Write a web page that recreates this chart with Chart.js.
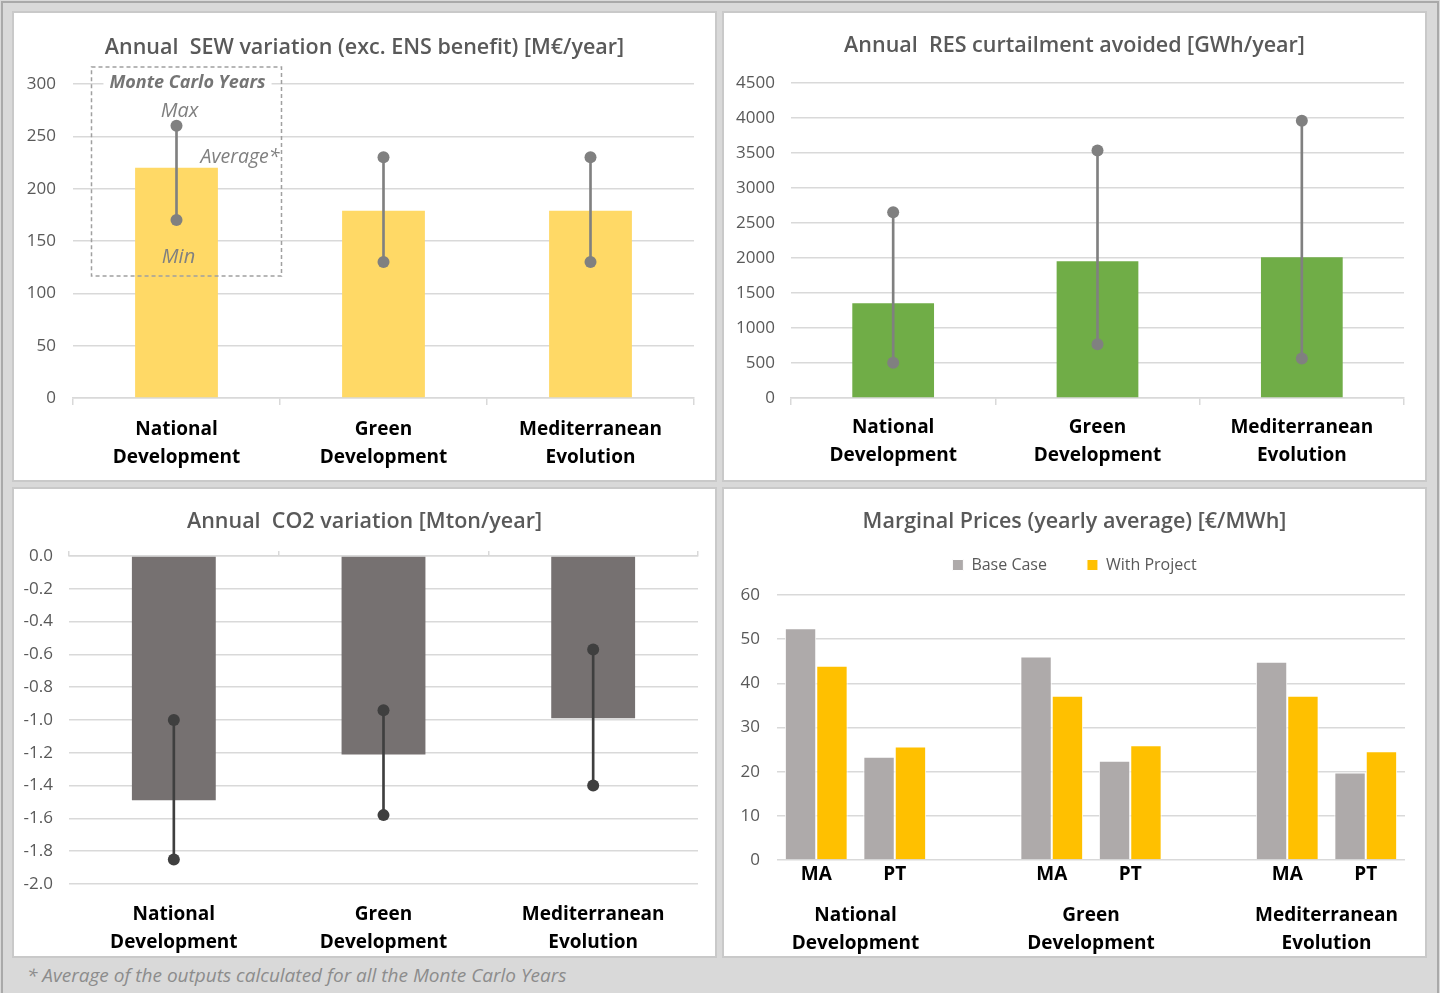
<!DOCTYPE html>
<html>
<head>
<meta charset="utf-8">
<title>Project indicators by scenario</title>
<script src="https://cdn.jsdelivr.net/npm/chart.js@4.4.1/dist/chart.umd.min.js"></script>
<style>
  html, body { margin: 0; padding: 0; }
  body {
    width: 1440px; height: 993px; position: relative; overflow: hidden;
    background: #d9d9d9; font-family: "Open Sans", "Noto Sans", sans-serif;
  }
  .frame { position: absolute; left: 1px; top: 1px; width: 1438px; height: 1010px;
           border: 2px solid #a9a9a9; box-sizing: border-box; }
  .panel { position: absolute; width: 705px; height: 471px; background: #fff;
           border: 2px solid #c9c9c9; box-sizing: border-box; }
  .panel canvas { position: absolute; left: 0; top: 0; }
  #p1 { left: 12px;  top: 11px; }
  #p2 { left: 722px; top: 11px; }
  #p3 { left: 12px;  top: 487px; }
  #p4 { left: 722px; top: 487px; }
  #note { position: absolute; left: 27px; top: 962px; font-size: 19px;
          font-style: italic; color: #8c8c8c; white-space: nowrap; }
</style>
</head>
<body>
<div class="frame"></div>
<div class="panel" id="p1"><canvas id="c1" width="701" height="467"></canvas></div>
<div class="panel" id="p2"><canvas id="c2" width="701" height="467"></canvas></div>
<div class="panel" id="p3"><canvas id="c3" width="701" height="467"></canvas></div>
<div class="panel" id="p4"><canvas id="c4" width="701" height="467"></canvas></div>
<div id="note">* Average of the outputs calculated for all the Monte Carlo Years</div>

<script>
// ---- data -------------------------------------------------------------
const scenarios = [['National', 'Development'], ['Green', 'Development'], ['Mediterranean', 'Evolution']];

// Annual SEW variation (exc. ENS benefit) [M€/year]
const sewAverage = [220, 179, 179];
const sewMax = [260, 230, 230];
const sewMin = [170, 130, 130];
const sewAxis = [0, 300, 50];          // min, max, step

// Annual RES curtailment avoided [GWh/year]
const resAverage = [1352, 1953, 2010];
const resMax = [2655, 3535, 3960];
const resMin = [505, 769, 565];
const resAxis = [0, 4500, 500];

// Annual CO2 variation [Mton/year]
const co2Average = [-1.49, -1.21, -0.99];
const co2Upper = [-1.00, -0.94, -0.57];
const co2Lower = [-1.85, -1.58, -1.40];
const co2Axis = [-2, 0, 0.2];

// Marginal prices (yearly average) [€/MWh]
const priceLabels = ['MA', 'PT', '', 'MA', 'PT', '', 'MA', 'PT'];
const priceBaseCase = [52.5, 23.4, null, 46.1, 22.5, null, 44.9, 19.8];
const priceWithProject = [44.0, 25.7, null, 37.2, 26.0, null, 37.2, 24.6];
const priceAxis = [0, 60, 10];

// ---- shared styling ---------------------------------------------------
const FONT = '"Open Sans", "Noto Sans", sans-serif';
Chart.defaults.font.family = FONT;
Chart.defaults.color = '#595959';
const GRID = '#d9d9d9';
const TITLE_FONT = { size: 21.5, weight: '600' };
const CAT_FONT = { size: 19, weight: '700', lineHeight: 28 / 19 };
const VALUE_FONT = { size: 17 };
const plainNumber = v => String(v);

function baseOptions(title, titlePadding) {
  return {
    responsive: false,
    animation: false,
    devicePixelRatio: 1,
    events: [],
    layout: { padding: 0 },
    plugins: {
      legend: { display: false },
      tooltip: { enabled: false },
      title: { display: true, text: title, color: '#595959', font: TITLE_FONT, padding: titlePadding }
    }
  };
}

// empty right-hand axis reserving the margin beside the plot
function spacerAxis(width) {
  return {
    position: 'right', display: true,
    ticks: { display: false }, grid: { display: false }, border: { display: false },
    afterFit(s) { s.width = width; }
  };
}

// average bar + min/max whisker with end dots
function rangeDatasets(avg, lo, hi, barColor, markColor) {
  return [
    { type: 'line', data: hi, showLine: false, pointRadius: 6, pointBorderWidth: 0,
      pointBackgroundColor: markColor, order: 1 },
    { type: 'line', data: lo, showLine: false, pointRadius: 6, pointBorderWidth: 0,
      pointBackgroundColor: markColor, order: 1 },
    { data: lo.map((v, i) => [v, hi[i]]), backgroundColor: markColor, barThickness: 2,
      grouped: false, order: 2 },
    { data: avg, backgroundColor: barColor, barPercentage: 0.4, categoryPercentage: 1,
      grouped: false, order: 3 }
  ];
}

// ---- annotation explaining the markers --------------------------------
const monteCarloKey = {
  id: 'monteCarloKey',
  afterDatasetsDraw(chart) {
    const { ctx, scales: { x, y } } = chart;
    const cx = x.getPixelForValue(0);
    const left = cx - 85, right = cx + 105;
    const top = y.getPixelForValue(y.max) - 17;
    const bottom = y.getPixelForValue(sewMin[0]) + 56;
    ctx.save();
    ctx.setLineDash([4, 3]);
    ctx.strokeStyle = '#a0a0a0';
    ctx.lineWidth = 1.5;
    ctx.strokeRect(left, top, right - left, bottom - top);
    ctx.setLineDash([]);

    const headY = y.getPixelForValue(y.max) - 1;
    ctx.font = 'italic 700 18px ' + FONT;
    const head = 'Monte Carlo Years';
    const w = ctx.measureText(head).width;
    ctx.fillStyle = '#fff';
    ctx.fillRect(cx + 11 - w / 2 - 6, headY - 12, w + 12, 24);
    ctx.fillStyle = '#757575';
    ctx.textAlign = 'center';
    ctx.textBaseline = 'middle';
    ctx.fillText(head, cx + 11, headY);

    ctx.font = 'italic 400 20px ' + FONT;
    ctx.fillStyle = '#808080';
    ctx.fillText('Max', cx + 3, y.getPixelForValue(sewMax[0]) - 15);
    ctx.fillText('Min', cx + 2, y.getPixelForValue(sewMin[0]) + 37);
    ctx.font = 'italic 400 19.5px ' + FONT;
    ctx.textAlign = 'right';
    ctx.fillText('Average*', right - 2, y.getPixelForValue(sewAverage[0]) - 10);
    ctx.restore();
  }
};

// ---- chart 1: SEW -----------------------------------------------------
const opt1 = baseOptions('Annual  SEW variation (exc. ENS benefit) [M€/year]', { top: 22.1, bottom: 23.1 });
opt1.scales = {
  x: {
    grid: { offset: true, drawOnChartArea: false, drawTicks: true, tickLength: 7, color: GRID, lineWidth: 1.5 },
    border: { color: GRID, width: 1.5 },
    ticks: { padding: 11, color: '#000', font: CAT_FONT, maxRotation: 0 },
    afterFit(s) { s.height = 82; }
  },
  y: {
    min: sewAxis[0], max: sewAxis[1],
    ticks: { stepSize: sewAxis[2], padding: 17, font: VALUE_FONT, color: '#595959', callback: plainNumber },
    grid: { color: GRID, lineWidth: 1.5, drawTicks: false },
    border: { display: false },
    afterFit(s) { s.width = 59; }
  },
  yr: spacerAxis(21)
};
new Chart(document.getElementById('c1'), {
  type: 'bar',
  data: { labels: scenarios, datasets: rangeDatasets(sewAverage, sewMin, sewMax, '#ffd966', '#808080') },
  options: opt1,
  plugins: [monteCarloKey]
});

// ---- chart 2: RES curtailment -----------------------------------------
const opt2 = baseOptions('Annual  RES curtailment avoided [GWh/year]', { top: 20.1, bottom: 24.1 });
opt2.scales = {
  x: {
    grid: { offset: true, drawOnChartArea: false, drawTicks: true, tickLength: 7, color: GRID, lineWidth: 1.5 },
    border: { color: GRID, width: 1.5 },
    ticks: { padding: 9, color: '#000', font: CAT_FONT, maxRotation: 0 },
    afterFit(s) { s.height = 82; }
  },
  y: {
    min: resAxis[0], max: resAxis[1],
    ticks: { stepSize: resAxis[2], padding: 16, font: VALUE_FONT, color: '#595959', callback: plainNumber },
    grid: { color: GRID, lineWidth: 1.5, drawTicks: false },
    border: { display: false },
    afterFit(s) { s.width = 67; }
  },
  yr: spacerAxis(21)
};
new Chart(document.getElementById('c2'), {
  type: 'bar',
  data: { labels: scenarios, datasets: rangeDatasets(resAverage, resMin, resMax, '#70ad47', '#808080') },
  options: opt2
});

// ---- chart 3: CO2 -----------------------------------------------------
const opt3 = baseOptions('Annual  CO2 variation [Mton/year]', { top: 20.1, bottom: 16.1 });
opt3.scales = {
  x: {
    position: 'top',
    ticks: { display: false },
    grid: { offset: true, drawOnChartArea: false, drawTicks: true, tickLength: 5, color: GRID, lineWidth: 1.5 },
    border: { color: GRID, width: 1.5 },
    afterFit(s) { s.height = 5; }
  },
  xb: {
    position: 'bottom',
    grid: { display: false, drawTicks: false },
    border: { display: false },
    ticks: { padding: 17, color: '#000', font: CAT_FONT, maxRotation: 0 },
    afterFit(s) { s.height = 72; }
  },
  y: {
    min: co2Axis[0], max: co2Axis[1],
    ticks: { stepSize: co2Axis[2], padding: 16, font: VALUE_FONT, color: '#595959',
             callback: v => v.toFixed(1) },
    grid: { color: GRID, lineWidth: 1.5, drawTicks: false },
    border: { display: false },
    afterFit(s) { s.width = 55; }
  },
  yr: spacerAxis(17)
};
new Chart(document.getElementById('c3'), {
  type: 'bar',
  data: { labels: scenarios, datasets: rangeDatasets(co2Average, co2Lower, co2Upper, '#767171', '#3f3f3f') },
  options: opt3
});

// ---- chart 4: marginal prices -----------------------------------------
const scenarioGroups = {
  id: 'scenarioGroups',
  afterDraw(chart) {
    const { ctx, scales: { x }, chartArea } = chart;
    ctx.save();
    ctx.font = '700 19px ' + FONT;
    ctx.fillStyle = '#000';
    ctx.textAlign = 'center';
    ctx.textBaseline = 'middle';
    scenarios.forEach((lines, g) => {
      const cx = (x.getPixelForValue(g * 3) + x.getPixelForValue(g * 3 + 1)) / 2;
      lines.forEach((t, k) => ctx.fillText(t, cx, chartArea.bottom + 56 + k * 28));
    });
    ctx.restore();
  }
};
const legendHeight = {
  id: 'legendHeight',
  beforeInit(chart, args, opts) {
    const legend = chart.legend;
    if (!legend) return;
    const fit = legend.fit;
    legend.fit = function () { fit.call(this); this.height = opts.height; };
  }
};
const opt4 = baseOptions('Marginal Prices (yearly average) [€/MWh]', { top: 20.1, bottom: -17.9 });
opt4.plugins.legend = {
  display: true, position: 'top',
  labels: { boxWidth: 11, boxHeight: 11, padding: 40, color: '#595959', font: { size: 16 } }
};
opt4.plugins.legendHeight = { height: 78 };
opt4.scales = {
  x: {
    grid: { display: false, drawTicks: false },
    border: { display: false },
    ticks: { padding: 3.6, color: '#000', font: { size: 19, weight: '700' }, maxRotation: 0, autoSkip: false },
    afterFit(s) { s.height = 96; }
  },
  y: {
    min: priceAxis[0], max: priceAxis[1],
    ticks: { stepSize: priceAxis[2], padding: 17, font: VALUE_FONT, color: '#595959', callback: plainNumber },
    grid: { color: GRID, lineWidth: 1.5, drawTicks: false },
    border: { display: false },
    afterFit(s) { s.width = 53; }
  },
  yr: spacerAxis(20)
};
new Chart(document.getElementById('c4'), {
  type: 'bar',
  data: {
    labels: priceLabels,
    datasets: [
      { label: 'Base Case', data: priceBaseCase, backgroundColor: '#aeaaaa', borderColor: '#ffffff',
        borderWidth: 1, categoryPercentage: 0.8, barPercentage: 1 },
      { label: 'With Project', data: priceWithProject, backgroundColor: '#ffc000', borderColor: '#ffffff',
        borderWidth: 1, categoryPercentage: 0.8, barPercentage: 1 }
    ]
  },
  options: opt4,
  plugins: [legendHeight, scenarioGroups]
});
</script>
</body>
</html>
